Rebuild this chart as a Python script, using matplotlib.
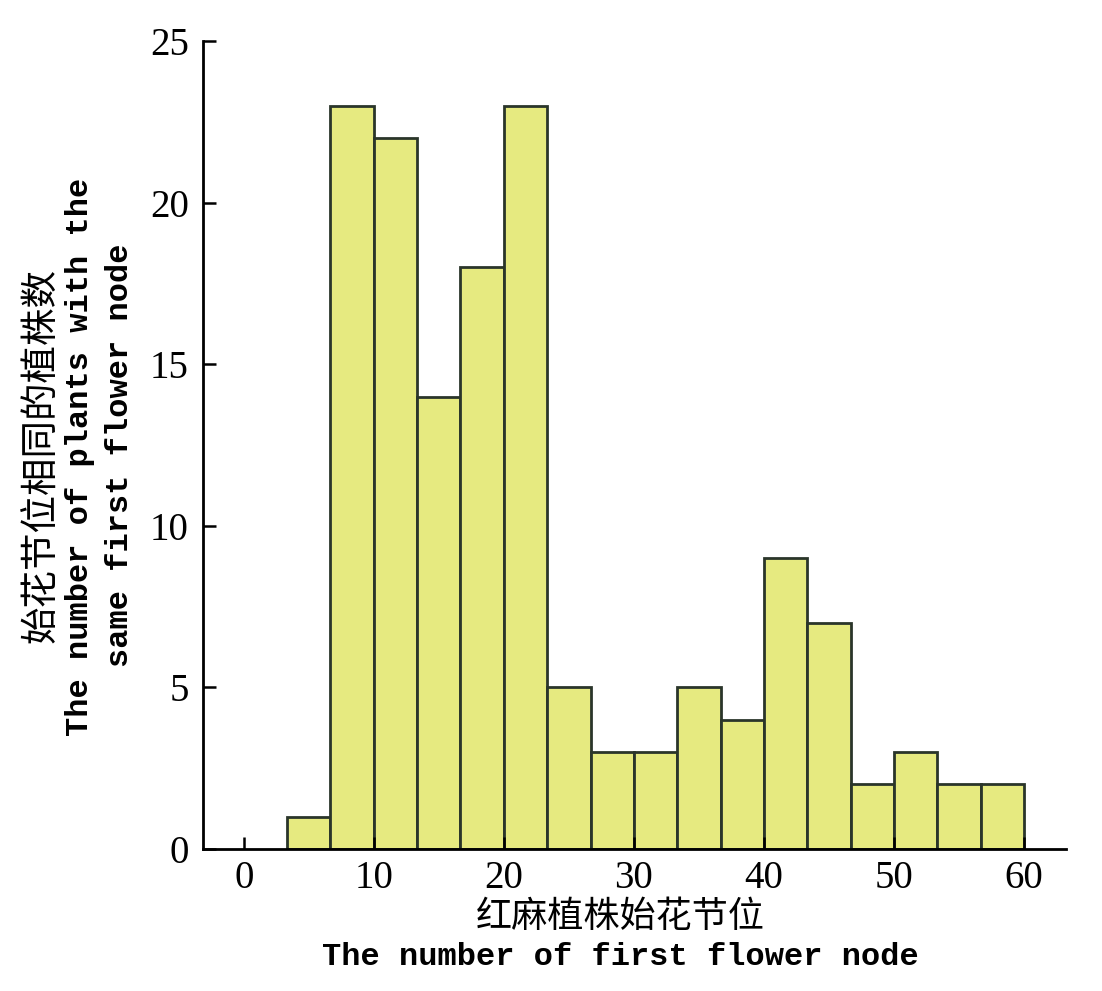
import numpy as np
import matplotlib
matplotlib.use("Agg")
import matplotlib.pyplot as plt

bin_edges = np.linspace(0, 60, 19)
counts = [0, 1, 23, 22, 14, 18, 23, 5, 3, 3, 5, 4, 9, 7, 2, 3, 2, 2]
xticks = [0, 10, 20, 30, 40, 50, 60]
yticks = [0, 5, 10, 15, 20, 25]

xlabel_cn = "红麻植株始花节位"
xlabel_en = "The number of first flower node"
ylabel_cn = "始花节位相同的植株数"
ylabel_en1 = "The number of plants with the"
ylabel_en2 = "same first flower node"

fig = plt.figure(figsize=(11.02, 9.91), dpi=100)
ax = fig.add_axes([0.184, 0.1433, 0.783, 0.8153])

left = bin_edges[:-1]
widths = np.diff(bin_edges)
mask = np.array(counts) > 0
ax.bar(left[mask], np.array(counts)[mask], width=widths[mask], align='edge',
       color='#E6EA80', edgecolor='#2A352A', linewidth=2.0)

ax.set_xlim(-3.15, 63.2)
ax.set_ylim(0, 25)
ax.set_xticks(xticks)
ax.set_yticks(yticks)
for s in ['top', 'right']:
    ax.spines[s].set_visible(False)
for s in ['left', 'bottom']:
    ax.spines[s].set_linewidth(2.0)
ax.tick_params(direction='in', length=9, width=1.8, labelsize=28)
ax.tick_params(axis='x', pad=8)
ax.tick_params(axis='y', pad=10)
for lab in ax.get_xticklabels() + ax.get_yticklabels():
    lab.set_fontfamily('Liberation Serif')

fig.text(620/1102, 1 - 917/991, xlabel_cn, family=['Noto Sans CJK SC'], fontsize=26,
         ha='center', va='center')
fig.text(620/1102, 1 - 957/991, xlabel_en, family=['Liberation Mono'], fontsize=23,
         fontweight='bold', ha='center', va='center')
fig.text(42/1102, 1 - 455/991, ylabel_cn, family=['Noto Sans CJK SC'], fontsize=27,
         ha='center', va='center', rotation=90)
fig.text(80/1102, 1 - 457/991, ylabel_en1, family=['Liberation Mono'], fontsize=23,
         fontweight='bold', ha='center', va='center', rotation=90)
fig.text(120/1102, 1 - 455/991, ylabel_en2, family=['Liberation Mono'], fontsize=23,
         fontweight='bold', ha='center', va='center', rotation=90)

fig.savefig('out.png', dpi=100)
